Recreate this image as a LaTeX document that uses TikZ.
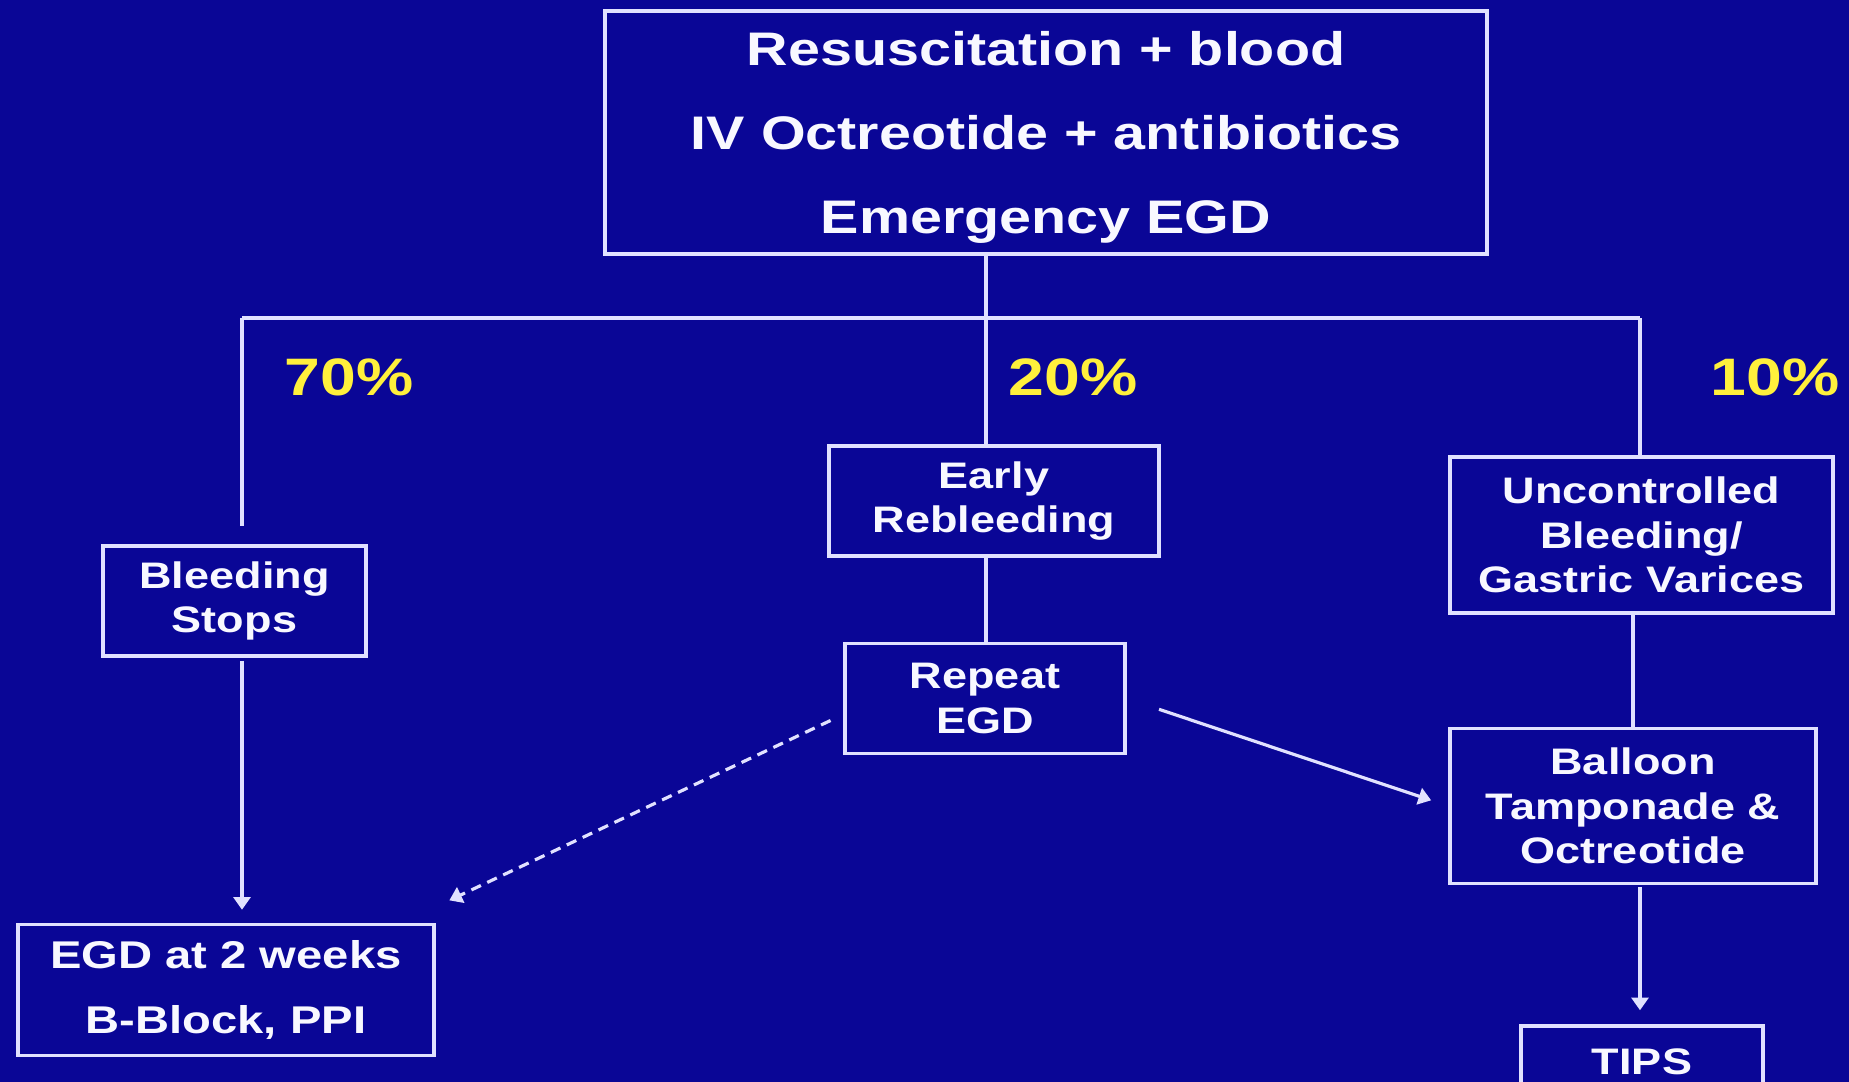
\documentclass[tikz,border=0pt]{standalone}
\usepackage{fontspec}
\setmainfont{Liberation Sans}[FakeStretch=1.22]
\usetikzlibrary{arrows.meta,positioning}

\definecolor{slidebg}{RGB}{10,6,150}
\definecolor{slideline}{RGB}{225,225,255}
\definecolor{slidetext}{RGB}{248,248,255}
\definecolor{slideyellow}{RGB}{255,240,60}

\begin{document}
\begin{tikzpicture}[
  box/.style={draw=slideline, line width=1pt, text=slidetext, align=center, inner sep=2pt,
              font=\bfseries\fontsize{10.5}{12.6}\selectfont},
  bigbox/.style={box, font=\bfseries\fontsize{13.4}{23.8}\selectfont},
  pct/.style={text=slideyellow, font=\bfseries\fontsize{15}{18}\selectfont},
  link/.style={draw=slideline, line width=0.9pt},
  arrow/.style={link, -{Triangle[width=4.8pt,length=3.6pt]}},
]
  \fill[slidebg] (0,0) rectangle (18.49,-10.82);
  \useasboundingbox (0,0) rectangle (18.49,-10.82);
  \clip (0,0) rectangle (18.49,-10.82);

  \node[bigbox, minimum width=8.82cm, minimum height=2.43cm] (top) at (10.46,-1.325)
    {\rule{0pt}{12.5pt}Resuscitation + blood\\IV Octreotide + antibiotics\\Emergency EGD};

  % three outcomes
  \node[pct] (p70) at (3.49,-3.77) {70\%};
  \node[pct] (p20) at (10.73,-3.77) {20\%};
  \node[pct] (p10) at (17.75,-3.77) {10\%};

  \node[box, minimum width=2.63cm, minimum height=1.10cm] (stops) at (2.345,-6.01) {Bleeding\\Stops};
  \node[box, minimum width=3.30cm, minimum height=1.10cm] (early) at (9.94,-5.01) {Early\\Rebleeding};
  \node[box, minimum width=3.83cm, minimum height=1.56cm] (unctrl) at (16.415,-5.35)
    {Uncontrolled\\Bleeding/\\Gastric Varices};

  \node[box, minimum width=2.80cm, minimum height=1.10cm, below=0.84cm of early, xshift=-0.09cm] (repeat) {Repeat\\EGD};
  \node[box, minimum width=3.66cm, minimum height=1.55cm, below=1.12cm of unctrl, xshift=-0.085cm] (balloon)
    {Balloon\\Tamponade \&\\Octreotide};
  \node[box, minimum width=2.42cm, minimum height=0.72cm, below=1.39cm of balloon, xshift=0.09cm] (tips) {TIPS};
  \node[box, minimum width=4.16cm, minimum height=1.31cm, below=2.65cm of stops, xshift=-0.085cm,
        font=\bfseries\fontsize{11}{18.7}\selectfont] (twoweeks) {EGD at 2 weeks\\B-Block, PPI};

  \coordinate (split) at (9.86,-3.18);
  \coordinate (lft) at (2.42,-3.18);
  \coordinate (rgt) at (16.40,-3.18);

  \draw[link] (split |- top.south) -- (split |- early.north);
  \draw[link] (lft) -- (rgt);
  \draw[link, shorten >=1.8mm] (lft) -- (lft |- stops.north);
  \draw[link] (rgt) -- (rgt |- unctrl.north);
  \draw[link] (split |- early.south) -- (split |- repeat.north);
  \draw[link] (balloon.north |- unctrl.south) -- (balloon.north);

  \draw[arrow, shorten <=0.3mm, shorten >=1.3mm] (lft |- stops.south) -- (lft |- twoweeks.north);
  \draw[arrow, dash pattern=on 3pt off 2pt, shorten <=1.4mm, shorten >=1.5mm]
    ([yshift=-1.6mm]repeat.west) -- ([yshift=1.6mm]twoweeks.north east);
  \draw[arrow, shorten <=3.4mm, shorten >=1.8mm] (repeat.east) -- (balloon.west);
  \draw[arrow, shorten <=0.2mm, shorten >=1.4mm] (rgt |- balloon.south) -- (rgt |- tips.north);
\end{tikzpicture}
\end{document}
